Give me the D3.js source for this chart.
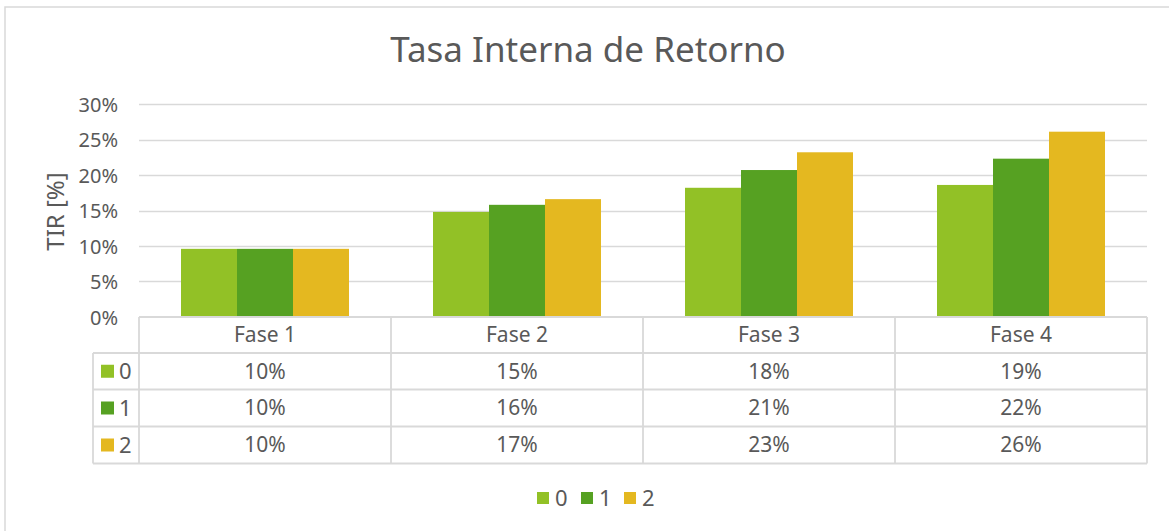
<!DOCTYPE html>
<html>
<head>
<meta charset="utf-8">
<script src="https://cdn.jsdelivr.net/npm/d3@7"></script>
<style>
  html, body { margin: 0; padding: 0; background: #fff; }
  svg { display: block; }
  text { font-family: "Noto Sans", "Open Sans", sans-serif; fill: #595959; }
</style>
</head>
<body>
<svg id="chart" width="1169" height="531"></svg>
<script>
// Internal rate of return (TIR) per project phase and scenario
const categories = ["Fase 1", "Fase 2", "Fase 3", "Fase 4"];
const seriesNames = ["0", "1", "2"];
const serie0 = [0.096, 0.148, 0.182, 0.186];
const serie1 = [0.096, 0.158, 0.207, 0.223];
const serie2 = [0.096, 0.166, 0.232, 0.261];
const yTicks = [0, 0.05, 0.10, 0.15, 0.20, 0.25, 0.30];
const colors = ["#92C126", "#56A122", "#E4B820"];

const values = [serie0, serie1, serie2];

const svg = d3.select("#chart");
const W = 1169, H = 531;

const plotLeft = 139, plotRight = 1147, plotTop = 104, plotBottom = 317;
const rowH = [36, 36.5, 37, 37];          // header row, then one row per series
const tableLeft = 93;
const gridColor = "#D9D9D9";

// Outer chart frame
svg.append("rect")
  .attr("x", 5).attr("y", 7)
  .attr("width", W + 20).attr("height", H + 20)
  .attr("fill", "#fff").attr("stroke", gridColor).attr("stroke-width", 1.5);

// Title
svg.append("text")
  .attr("x", 588).attr("y", 62)
  .attr("text-anchor", "middle")
  .style("font-size", "35px")
  .text("Tasa Interna de Retorno");

// Scales
const x = d3.scaleBand().domain(categories).range([plotLeft, plotRight]).padding(0);
const xs = d3.scaleBand().domain(seriesNames).range([0, x.bandwidth()])
  .paddingInner(0).paddingOuter(0.75);
const y = d3.scaleLinear().domain([0, 0.30]).range([plotBottom, plotTop]);

// Horizontal gridlines (0% line is the table's top edge)
svg.append("g")
  .selectAll("line")
  .data(yTicks.filter(d => d > 0))
  .join("line")
  .attr("x1", plotLeft).attr("x2", plotRight)
  .attr("y1", d => Math.round(y(d)) + 0.5).attr("y2", d => Math.round(y(d)) + 0.5)
  .attr("stroke", gridColor).attr("stroke-width", 1.5);

// Y axis tick labels
const yAxis = d3.axisLeft(y).tickValues(yTicks).tickFormat(d3.format(".0%")).tickSize(0).tickPadding(0);
const gy = svg.append("g").attr("transform", `translate(118,0)`).call(yAxis);
gy.select(".domain").remove();
gy.selectAll("text")
  .attr("dy", "0.35em")
  .style("font-size", "20px")
  .style("font-family", "'Noto Sans', sans-serif")
  .attr("fill", "#595959");

// Y axis title
svg.append("text")
  .attr("transform", `translate(64,${(plotTop + plotBottom) / 2 + 1}) rotate(-90)`)
  .attr("text-anchor", "middle")
  .style("font-size", "24px")
  .text("TIR [%]");

// Bars
const barData = [];
categories.forEach((c, ci) => {
  seriesNames.forEach((s, si) => {
    barData.push({ cat: c, s: s, si: si, v: values[si][ci] });
  });
});
svg.append("g")
  .selectAll("rect")
  .data(barData)
  .join("rect")
  .attr("x", d => x(d.cat) + xs(d.s))
  .attr("width", xs.bandwidth())
  .attr("y", d => y(d.v))
  .attr("height", d => y(0) - y(d.v))
  .attr("fill", d => colors[d.si]);

// Data table
const rowTop = [plotBottom];
rowH.forEach((h, i) => rowTop.push(rowTop[i] + h));
const tableBottom = rowTop[rowTop.length - 1];
const tbl = svg.append("g").attr("stroke", gridColor).attr("stroke-width", 1.8).attr("fill", "none");

// horizontal rules
tbl.append("line").attr("x1", plotLeft).attr("x2", plotRight).attr("y1", rowTop[0]).attr("y2", rowTop[0]);
for (let i = 1; i < rowTop.length; i++) {
  tbl.append("line").attr("x1", tableLeft).attr("x2", plotRight).attr("y1", rowTop[i]).attr("y2", rowTop[i]);
}
// vertical rules
const vx = categories.map(c => x(c)).concat([plotRight]);
vx.forEach(v => {
  tbl.append("line").attr("x1", v).attr("x2", v).attr("y1", rowTop[0]).attr("y2", tableBottom);
});
tbl.append("line").attr("x1", tableLeft).attr("x2", tableLeft).attr("y1", rowTop[1]).attr("y2", tableBottom);

// header labels
svg.append("g")
  .selectAll("text")
  .data(categories)
  .join("text")
  .attr("x", d => x(d) + x.bandwidth() / 2)
  .attr("y", (rowTop[0] + rowTop[1]) / 2)
  .attr("dy", "0.35em")
  .attr("text-anchor", "middle")
  .style("font-size", "21px")
  .text(d => d);

// value cells
const fmt = d3.format(".0%");
seriesNames.forEach((s, si) => {
  const cy = (rowTop[si + 1] + rowTop[si + 2]) / 2;
  svg.append("g")
    .selectAll("text")
    .data(values[si])
    .join("text")
    .attr("x", (d, ci) => x(categories[ci]) + x.bandwidth() / 2)
    .attr("y", cy)
    .attr("dy", "0.35em")
    .attr("text-anchor", "middle")
    .style("font-size", "21px")
    .text(d => fmt(d));
  // row legend key
  svg.append("rect")
    .attr("x", 101).attr("y", cy - 6.5)
    .attr("width", 13).attr("height", 13)
    .attr("fill", colors[si]);
  svg.append("text")
    .attr("x", 119).attr("y", cy)
    .attr("dy", "0.35em")
    .style("font-size", "22px")
    .text(s);
});

// Bottom legend
const legendX = [537, 581, 624];
const lg = svg.append("g");
seriesNames.forEach((s, si) => {
  lg.append("rect")
    .attr("x", legendX[si]).attr("y", 492)
    .attr("width", 12).attr("height", 12)
    .attr("fill", colors[si]);
  lg.append("text")
    .attr("x", legendX[si] + 18).attr("y", 498)
    .attr("dy", "0.35em")
    .style("font-size", "22px")
    .text(s);
});
</script>
</body>
</html>
